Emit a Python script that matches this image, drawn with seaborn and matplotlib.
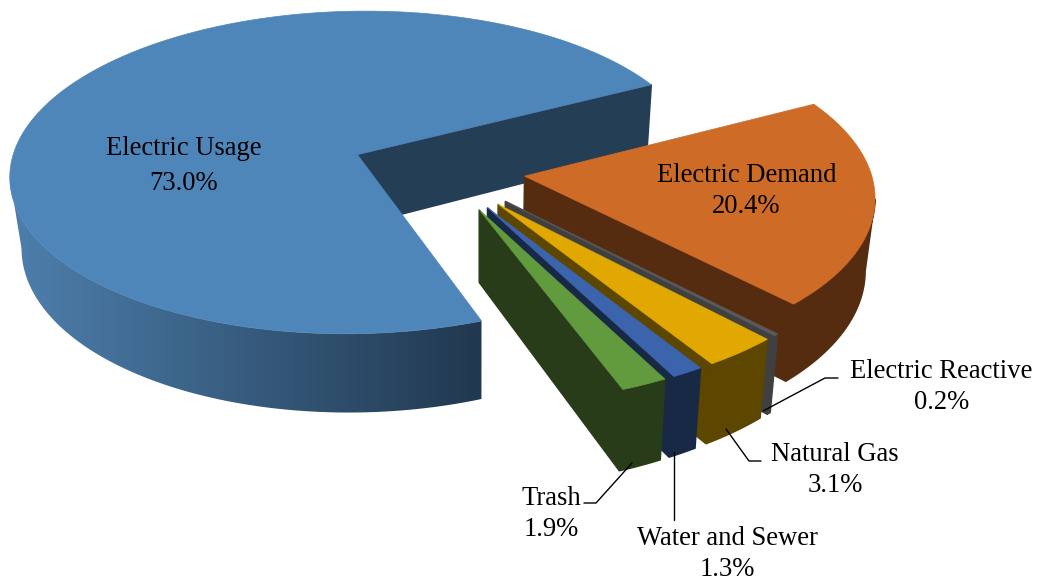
import numpy as np
import matplotlib
matplotlib.use("Agg")
import matplotlib.pyplot as plt
from matplotlib.patches import Polygon
import seaborn as sns

# --- data -----------------------------------------------------------------
categories = ["Electric Usage", "Trash", "Water and Sewer", "Natural Gas",
              "Electric Reactive", "Electric Demand"]
shares = [73.0, 1.9, 1.3, 3.1, 0.2, 20.4]
explosions = [0.262, 0.262, 0.262, 0.262, 0.262, 0.242]
top_colors = ["#4E86BA", "#619B3E", "#3B64AD", "#E0A800", "#5A5A5A", "#CE6B27"]
side_colors = ["#243E56", "#283C19", "#172945", "#5C4600", "#404040", "#552C10"]
usage_gradient = ["#4E80AE", "#21384F"]
draw_order = ["Electric Usage", "Electric Demand", "Electric Reactive",
              "Natural Gas", "Water and Sewer", "Trash"]
label_boxes = {
    "Electric Usage": (183.5, 166),
    "Electric Demand": (746.5, 191),
    "Electric Reactive": (941.5, 387),
    "Natural Gas": (835, 470),
    "Water and Sewer": (727, 554),
    "Trash": (551, 514),
}
leaders = {
    "Electric Reactive": ([763, 825, 838], [411, 378, 378]),
    "Natural Gas": ([726, 749, 761], [429, 461, 461]),
    "Water and Sewer": ([674, 674], [452, 520]),
    "Trash": ([632, 596, 584], [463, 503, 503]),
}

# --- pie geometry ---------------------------------------------------------
CX, CY = 360.0, 153.0      # screen position of the Usage slice apex
R, RS = 343.0, 159.0       # screen radii of the disc
PERSP = 0.11               # foreshortening along the view axis
YAW = 0.002                # slight foreshortening across the view axis
SHEAR = -88.0              # camera sits right of the apex
DEPTH = 70.0               # extrusion height
VPX, SHRINK = 480.0, 0.975 # vertical lines converge towards VPX
START_DEG = 27.5
HUB = np.array([0.2375, 0.1043])


def project(u, v):
    w = 1 - PERSP * v + YAW * u
    x = CX + R * u / w + SHEAR * (1 / w - 1)
    y = CY + RS * v / w
    xb = VPX + (x - VPX) * SHRINK
    yb = y + DEPTH / w
    return x, y, xb, yb


def shoelace(xs, ys):
    xs, ys = np.asarray(xs), np.asarray(ys)
    return 0.5 * np.sum(xs * np.roll(ys, -1) - np.roll(xs, -1) * ys)


sns.set_theme(style="white")
plt.rcParams["font.family"] = ["Liberation Serif", "DejaVu Serif"]

fig = plt.figure(figsize=(10.37, 5.81), dpi=100, facecolor="white")
ax = fig.add_axes([0, 0, 1, 1])
ax.set_xlim(0, 1037)
ax.set_ylim(581, 0)
ax.axis("off")

# angular spans from the values
total = sum(shares)
edges = START_DEG + np.concatenate([[0], np.cumsum(shares)]) / total * 360.0
spans = {c: (edges[i], edges[i + 1]) for i, c in enumerate(categories)}

for name in draw_order:
    i = categories.index(name)
    z = 1 + draw_order.index(name)
    a0, a1 = spans[name]
    mid = np.radians((a0 + a1) / 2)
    off = HUB + explosions[i] * np.array([np.cos(mid), -np.sin(mid)])
    n = max(int((a1 - a0) * 2), 6)
    th = np.radians(np.linspace(a0, a1, n + 1))
    u = off[0] + np.cos(th)
    v = off[1] - np.sin(th)
    x, y, xb, yb = project(u, v)
    ax_, ay_, axb, ayb = project(off[0], off[1])

    def quad(px, py, color, lw=0.5):
        ax.fill(px, py, facecolor=color, edgecolor=color, lw=lw, zorder=z)

    # radial faces, only those turned towards the viewer
    for (a, b, c, d) in [((ax_, ay_), (x[0], y[0]), (xb[0], yb[0]), (axb, ayb)),
                         ((x[-1], y[-1]), (ax_, ay_), (axb, ayb), (xb[-1], yb[-1]))]:
        px, py = zip(a, b, c, d)
        if shoelace(px, py) > 0:
            quad(px, py, side_colors[i], lw=1.0)

    # outer wall: the run of arc steps whose top edge moves rightwards on screen
    vis = [k for k in range(n) if x[k + 1] > x[k]]
    if vis:
        idx = np.arange(vis[0], vis[-1] + 2)
        wx = np.concatenate([x[idx], xb[idx][::-1]])
        wy = np.concatenate([y[idx], yb[idx][::-1]])
        if name == "Electric Usage":
            ramp = np.array(sns.blend_palette(usage_gradient, 256))[None, :, :]
            clip = Polygon(np.column_stack([wx, wy]), closed=True,
                           transform=ax.transData, facecolor="none", edgecolor="none")
            ax.add_patch(clip)
            im = ax.imshow(ramp, extent=(5, 482, 581, 0), aspect="auto",
                           interpolation="bilinear", zorder=z)
            im.set_clip_path(clip)
        else:
            quad(wx, wy, side_colors[i], lw=1.0)

    # top surface
    quad(np.concatenate([[ax_], x]), np.concatenate([[ay_], y]), top_colors[i])

# leader lines
for name, (lx, ly) in leaders.items():
    sns.lineplot(x=lx, y=ly, ax=ax, color="black", lw=1.0, sort=False,
                 estimator=None, legend=False, zorder=20)

# labels
ax.set_xlim(0, 1037)
ax.set_ylim(581, 0)
ax.axis("off")
for i, name in enumerate(categories):
    lx, ly = label_boxes[name]
    ax.text(lx, ly, f"{name}\n{shares[i]:.1f}%", ha="center", va="center",
            ma="center", fontsize=19.2, color="black",
            linespacing=1.5 if i == 0 else 1.36, zorder=30)

fig.savefig("out.png", dpi=100, facecolor="white")
